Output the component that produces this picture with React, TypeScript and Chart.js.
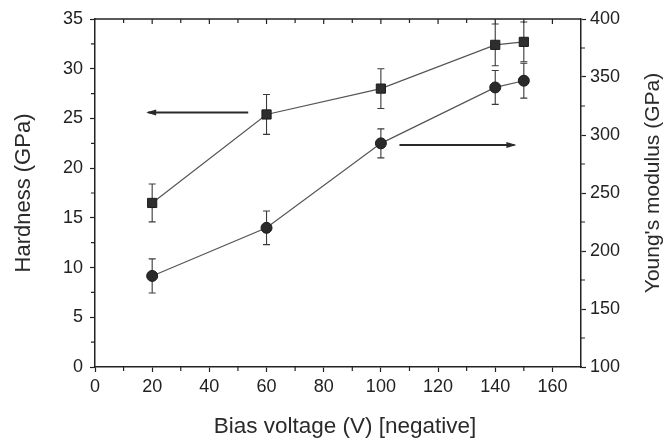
import React, { useEffect, useRef } from "react";
import { Chart, registerables } from "chart.js";

Chart.register(...registerables);

// Data
const biasVoltage = [20, 60, 100, 140, 150];
const hardness = [16.5, 25.4, 28.0, 32.4, 32.7];
const hardnessErr = [1.9, 2.0, 2.0, 2.1, 2.0];
const modulus = [178.5, 220, 292.8, 341, 346.8];
const modulusErr = [14.7, 14.5, 12.5, 14.6, 15];

const xTicks = [0, 20, 40, 60, 80, 100, 120, 140, 160];
const xMinorTicks = [10, 30, 50, 70, 90, 110, 130, 150, 170];
const hardnessTicks = [0, 5, 10, 15, 20, 25, 30, 35];
const hardnessMinor = [2.5, 7.5, 12.5, 17.5, 22.5, 27.5, 32.5];
const modulusTicks = [100, 150, 200, 250, 300, 350, 400];
const modulusMinor = [125, 175, 225, 275, 325, 375];

// Arrow annotations (data coordinates)
const hardnessArrow = { xFrom: 53.6, xTo: 18.6, y: 25.6 };
const modulusArrow = { xFrom: 106.5, xTo: 146.7, y: 291.4 };

const xTitle = "Bias voltage (V) [negative]";
const yTitle = "Hardness (GPa)";
const y1Title = "Young's modulus (GPa)";

const INK = "#222";
const FONT = "'Liberation Sans', Arial, sans-serif";

const errorBarPlugin = {
  id: "errorBars",
  beforeDatasetsDraw(chart: any) {
    const ctx = chart.ctx;
    const xs = chart.scales.x;
    const sets = [
      { scale: chart.scales.y, vals: hardness, errs: hardnessErr },
      { scale: chart.scales.y1, vals: modulus, errs: modulusErr },
    ];
    ctx.save();
    ctx.strokeStyle = "#3a3a3a";
    ctx.lineWidth = 1.1;
    const cap = 3.5;
    sets.forEach((s) => {
      s.vals.forEach((v, i) => {
        const px = xs.getPixelForValue(biasVoltage[i]);
        const top = s.scale.getPixelForValue(v + s.errs[i]);
        const bot = s.scale.getPixelForValue(v - s.errs[i]);
        ctx.beginPath();
        ctx.moveTo(px, top);
        ctx.lineTo(px, bot);
        ctx.moveTo(px - cap, top);
        ctx.lineTo(px + cap, top);
        ctx.moveTo(px - cap, bot);
        ctx.lineTo(px + cap, bot);
        ctx.stroke();
      });
    });
    ctx.restore();
  },
};

function drawArrow(ctx: any, x1: number, x2: number, y: number) {
  ctx.beginPath();
  ctx.moveTo(x1, y);
  ctx.lineTo(x2, y);
  ctx.stroke();
  const dir = x2 > x1 ? 1 : -1;
  ctx.beginPath();
  ctx.moveTo(x2 + dir * 2, y);
  ctx.lineTo(x2 - dir * 8, y - 3);
  ctx.lineTo(x2 - dir * 8, y + 3);
  ctx.closePath();
  ctx.fill();
}

const decorPlugin = {
  id: "decor",
  afterDraw(chart: any) {
    const ctx = chart.ctx;
    const { left, right, top, bottom } = chart.chartArea;
    const xs = chart.scales.x;
    const ys = chart.scales.y;
    const y1 = chart.scales.y1;
    ctx.save();
    ctx.strokeStyle = INK;
    ctx.lineWidth = 1.5;
    // top border
    ctx.beginPath();
    ctx.moveTo(left, top);
    ctx.lineTo(right, top);
    ctx.stroke();
    ctx.lineWidth = 1.2;
    ctx.beginPath();
    // top inward ticks
    [...xTicks, ...xMinorTicks].forEach((v) => {
      const px = xs.getPixelForValue(v);
      if (px <= left + 1 || px >= right - 1) return;
      ctx.moveTo(px, top);
      ctx.lineTo(px, top + (xTicks.includes(v) ? 5 : 4));
    });
    // bottom minor ticks
    xMinorTicks.forEach((v) => {
      const px = xs.getPixelForValue(v);
      if (px >= right - 1) return;
      ctx.moveTo(px, bottom);
      ctx.lineTo(px, bottom + 4);
    });
    // left minor ticks
    hardnessMinor.forEach((v) => {
      const py = ys.getPixelForValue(v);
      ctx.moveTo(left, py);
      ctx.lineTo(left - 4, py);
    });
    // right minor ticks
    modulusMinor.forEach((v) => {
      const py = y1.getPixelForValue(v);
      ctx.moveTo(right, py);
      ctx.lineTo(right + 4, py);
    });
    ctx.stroke();

    // arrows
    ctx.strokeStyle = "#2a2a2a";
    ctx.fillStyle = "#2a2a2a";
    ctx.lineWidth = 2;
    drawArrow(
      ctx,
      xs.getPixelForValue(hardnessArrow.xFrom),
      xs.getPixelForValue(hardnessArrow.xTo),
      ys.getPixelForValue(hardnessArrow.y)
    );
    drawArrow(
      ctx,
      xs.getPixelForValue(modulusArrow.xFrom),
      xs.getPixelForValue(modulusArrow.xTo),
      y1.getPixelForValue(modulusArrow.y)
    );

    // titles
    ctx.fillStyle = "#2a2a2a";
    ctx.textAlign = "center";
    ctx.textBaseline = "middle";
    ctx.font = `22.5px ${FONT}`;
    ctx.fillText(xTitle, (left + right) / 2 + 7, 427);
    ctx.save();
    ctx.translate(23.5, (top + bottom) / 2);
    ctx.rotate(-Math.PI / 2);
    ctx.font = `22px ${FONT}`;
    ctx.fillText(yTitle, 0, 0);
    ctx.restore();
    ctx.save();
    ctx.translate(653, (top + bottom) / 2 - 10);
    ctx.rotate(-Math.PI / 2);
    ctx.font = `21px ${FONT}`;
    ctx.fillText(y1Title, 0, 0);
    ctx.restore();
    ctx.restore();
  },
};

export default function App() {
  const canvasRef = useRef<HTMLCanvasElement | null>(null);

  useEffect(() => {
    if (!canvasRef.current) return;
    const tickFont = { family: FONT, size: 18 };
    const gridCommon = {
      display: true,
      drawOnChartArea: false,
      drawTicks: true,
      tickLength: 5,
      tickWidth: 1.2,
      tickColor: INK,
    };
    const border = { display: true, color: INK, width: 1.5 };
    const chart = new Chart(canvasRef.current, {
      type: "line",
      data: {
        datasets: [
          {
            label: "Hardness",
            data: biasVoltage.map((x, i) => ({ x, y: hardness[i] })),
            yAxisID: "y",
            borderColor: "#555",
            borderWidth: 1.2,
            pointStyle: "rect",
            pointRadius: 6.5,
            pointBackgroundColor: "#2e2e2e",
            pointBorderColor: "#1c1c1c",
            pointBorderWidth: 1,
            fill: false,
          },
          {
            label: "Young's modulus",
            data: biasVoltage.map((x, i) => ({ x, y: modulus[i] })),
            yAxisID: "y1",
            borderColor: "#555",
            borderWidth: 1.2,
            pointStyle: "circle",
            pointRadius: 5.5,
            pointBackgroundColor: "#2a2a2a",
            pointBorderColor: "#1c1c1c",
            pointBorderWidth: 1,
            fill: false,
          },
        ],
      },
      options: {
        responsive: false,
        animation: false,
        layout: { padding: { top: 19, left: 0, right: 0, bottom: 0 } },
        plugins: {
          legend: { display: false },
          tooltip: { enabled: false },
        },
        scales: {
          x: {
            type: "linear",
            min: 0,
            max: 170,
            afterBuildTicks: (s: any) => {
              s.ticks = xTicks.map((v) => ({ value: v }));
            },
            afterFit: (s: any) => {
              s.height = 76;
            },
            ticks: { font: tickFont, color: INK, padding: 4, maxRotation: 0 },
            grid: gridCommon,
            border,
          },
          y: {
            type: "linear",
            position: "left",
            min: 0,
            max: 35,
            afterBuildTicks: (s: any) => {
              s.ticks = hardnessTicks.map((v) => ({ value: v }));
            },
            afterFit: (s: any) => {
              s.width = 95;
            },
            ticks: { font: tickFont, color: INK, padding: 7 },
            grid: gridCommon,
            border,
          },
          y1: {
            type: "linear",
            position: "right",
            min: 100,
            max: 400,
            afterBuildTicks: (s: any) => {
              s.ticks = modulusTicks.map((v) => ({ value: v }));
            },
            afterFit: (s: any) => {
              s.width = 85;
            },
            ticks: { font: tickFont, color: INK, padding: 4 },
            grid: gridCommon,
            border,
          },
        },
      } as any,
      plugins: [errorBarPlugin, decorPlugin],
    });
    return () => chart.destroy();
  }, []);

  return (
    <div
      style={{
        position: "fixed",
        left: 0,
        top: 0,
        width: 666,
        height: 443,
        background: "#fff",
      }}
    >
      <canvas ref={canvasRef} width={666} height={443} />
    </div>
  );
}
